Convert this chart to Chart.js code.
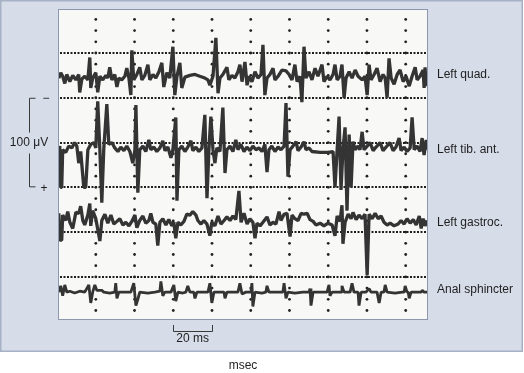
<!DOCTYPE html>
<html>
<head>
<meta charset="utf-8">
<script src="https://cdn.jsdelivr.net/npm/chart.js@4/dist/chart.umd.min.js"></script>
<style>
html,body{margin:0;padding:0;background:#ffffff;}
canvas{display:block;}
</style>
</head>
<body>
<canvas id="c" width="524" height="373"></canvas>
<script>
// ---- data (time in ms, amplitude in µV relative to each channel baseline) ----
const channelNames = ["Left quad.", "Left tib. ant.", "Left gastroc.", "Anal sphincter"];
const channelLevels = [272, 192, 111, 33]; // display offsets (µV) of each channel baseline

const quadPoints = [[-19.1,0],[-18.1,6],[-17.1,2],[-16,-6],[-15,4],[-13.4,-4],[-11.9,3],[-10.3,-2],[-8.8,4],[-8.3,-16],[-7.2,-1],[-5.7,2],[-4.1,-2],[-3.1,23],[-2.6,-11],[-1.6,0],[0,6],[1,-16],[2.1,2],[3.6,-2],[5.2,3],[6.2,0],[7.2,12],[8.3,-2],[9.8,4],[10.9,-10],[11.9,0],[13.4,-2],[15,2],[16,11],[17.1,0],[18.1,-19],[18.6,31],[19.6,-2],[21.2,4],[22.7,12],[23.8,-2],[25.3,3],[26.9,15],[27.9,-2],[29.5,4],[31,0],[32.6,7],[34.1,17],[35.1,-10],[36.7,6],[38.2,0],[39.8,35],[40.8,-19],[41.9,2],[43.4,17],[44.4,-11],[46,1],[48.6,3],[51.2,4],[53.7,2],[56.3,0],[57.9,-2],[58.9,-8],[60.5,2],[62,45],[63.1,-17],[64.1,0],[65.6,4],[67.7,12],[68.7,-2],[70.3,3],[71.8,0],[73.4,7],[74.4,15],[75.5,-4],[77,18],[78.1,-8],[79.1,2],[80.6,-4],[82.2,7],[83.7,0],[85.3,4],[86.3,37],[87.3,-19],[88.4,0],[89.9,4],[91.5,11],[92.5,-2],[94.1,2],[96.1,9],[98.2,8],[99.8,4],[101.3,-2],[102.8,15],[103.9,-4],[105.4,2],[106.4,-27],[107.5,35],[108.5,0],[110.1,7],[111.6,-2],[113.2,11],[114.7,2],[116.8,15],[117.8,-4],[119.4,2],[120.9,-2],[122.5,4],[123.5,15],[124.6,-2],[126.1,2],[127.1,15],[128.2,-22],[129.2,0],[130.8,7],[132.3,0],[133.9,9],[135.4,2],[137.5,-2],[139,2],[140.1,-19],[141.1,15],[142.1,-2],[143.7,4],[145.2,11],[146.8,-4],[148.3,4],[149.4,0],[150.4,-22],[151.4,22],[152.5,0],[154,-7],[155.6,4],[157.1,9],[158.7,-4],[160.2,2],[161.8,-9],[163.3,2],[164.9,12],[165.9,-2],[167.4,2],[169,9],[169.5,-11],[170,12],[170.6,-9],[171.1,2]];

const tibPoints = [[-19.1,0],[-18.6,4],[-18.1,-42],[-17.6,-42],[-17.1,0],[-15.5,-3],[-14,4],[-12.4,2],[-10.9,8],[-9.8,4],[-8.8,-15],[-7.8,-2],[-6.2,-42],[-5.2,-42],[-4.1,0],[-2.6,6],[-1,8],[0,2],[1,54],[2.1,0],[3.1,-59],[4.1,0],[5.7,51],[6.7,6],[8.3,8],[9.8,2],[11.4,-2],[12.9,3],[14.5,-1],[16,4],[17.6,-2],[19.1,-15],[20.2,0],[20.7,50],[21.7,-48],[22.7,0],[24.3,4],[25.8,-2],[27.4,11],[28.4,0],[30,3],[31.5,-2],[33.1,2],[34.6,10],[35.7,-1],[37.2,3],[38.8,-9],[39.8,0],[41.3,36],[41.9,-57],[42.9,0],[44.4,4],[46,-2],[47.5,3],[49.1,10],[50.1,-1],[51.7,3],[53.2,-2],[54.8,2],[56.3,39],[57.4,-54],[58.4,0],[59.4,37],[60.5,0],[61.5,-15],[62.5,2],[64.1,-2],[65.6,47],[66.7,-26],[67.7,0],[69.3,4],[70.8,-2],[72.3,11],[73.4,0],[74.9,6],[76.5,-2],[78,3],[79.6,-1],[81.1,4],[82.7,0],[84.2,2],[85.8,-2],[87.3,6],[88.4,-25],[89.4,0],[90.9,4],[92.5,-2],[94.1,3],[95.6,0],[97.2,4],[98.2,52],[99.2,-30],[100.3,0],[101.8,4],[103.4,9],[104.4,-1],[106,3],[107.5,9],[108.5,0],[110.1,2],[111.6,-2],[115.8,-3],[119.9,-3],[122.5,-2],[123.5,-42],[124.6,0],[125.6,37],[126.6,-45],[127.6,0],[128.7,25],[129.7,-68],[130.8,17],[131.8,-42],[132.8,9],[133.9,0],[135.4,4],[136.4,0],[137.5,20],[138.5,0],[140.1,4],[141.6,8],[143.2,-1],[144.7,3],[146.8,8],[148.3,-1],[149.9,3],[151.9,8],[153.5,-1],[155,3],[156.6,13],[157.6,-1],[159.2,3],[160.7,-2],[162.3,2],[163.3,36],[164.4,0],[165.9,4],[167.4,-2],[168.5,13],[169.5,-6],[170.6,11],[171.1,0]];

const gastrocPoints = [[-19.1,10],[-18.6,-20],[-17.6,-20],[-17.1,8],[-15.5,2],[-14.5,12],[-13.4,0],[-11.9,-7],[-10.3,11],[-8.8,10],[-7.8,18],[-6.7,2],[-5.7,-3],[-4.1,8],[-3.1,21],[-2.6,-4],[-1.6,13],[0,4],[2.1,-21],[3.1,2],[4.7,9],[6.2,-1],[7.8,8],[9.3,-2],[10.9,1],[12.4,4],[14,-3],[15.5,0],[17.1,-4],[18.6,1],[20.2,8],[21.2,-6],[22.7,2],[24.3,7],[25.8,-1],[27.4,2],[28.4,10],[29.5,0],[31,-2],[32,-26],[33.1,0],[34.6,4],[36.2,-3],[37.7,3],[39.3,-4],[40.3,0],[41.3,-18],[42.4,0],[43.9,-3],[45.5,1],[47,9],[48.6,8],[50.1,12],[51.7,8],[52.7,2],[54.3,-2],[55.8,2],[57.4,-2],[58.9,-15],[59.9,0],[61.5,-4],[63.1,7],[64.6,-2],[66.2,2],[67.7,6],[69.3,2],[70.8,7],[72.3,3],[73.9,35],[75,0],[76.5,10],[78.1,-2],[79.6,4],[81.1,0],[82.2,-18],[83.2,-1],[84.8,-4],[86.3,0],[88.4,6],[89.9,-3],[91.5,0],[93,-2],[94.6,12],[95.6,2],[97.2,9],[98.7,10],[100.3,-16],[101.3,8],[102.8,4],[104.4,2],[106,10],[107.5,9],[109.1,10],[110.6,3],[112.2,1],[113.7,-3],[115.8,-1],[117.8,-4],[119.9,-1],[122,-3],[123.5,-15],[124.6,7],[126.1,1],[127.1,19],[127.6,-24],[128.7,0],[130.3,9],[131.8,4],[132.8,11],[134.4,3],[135.9,8],[137.5,4],[139,9],[140.1,-59],[141.1,9],[142.7,4],[144.2,10],[145.8,4],[147.3,7],[148.8,0],[150.4,-3],[152,-1],[154,-4],[156.1,-2],[157.6,2],[159.2,-2],[160.7,4],[162.3,-1],[163.9,3],[165.4,-3],[167,7],[168,-7],[169,4],[170,-4],[171.1,2]];

const analPoints = [[-19.1,0],[-18.1,7],[-17.1,-4],[-16,8],[-15,0],[-13.4,1],[-10.9,-1],[-8.3,1],[-5.7,0],[-3.6,8],[-2.6,-12],[-1.6,0],[-0.5,8],[0.5,2],[3.1,2],[4.1,0],[7.2,-1],[9.8,0],[10.3,10],[10.9,-7],[11.9,0],[15,0],[18.1,0],[19.6,10],[20.7,-15],[21.7,-8],[22.7,0],[26.9,-1],[30.5,0],[33.1,1],[33.6,12],[34.6,-4],[35.7,0],[38.8,0],[40.3,8],[41.3,-10],[42.4,0],[44.9,-1],[46.5,0],[47.5,7],[48.6,0],[50.6,0],[51.2,-7],[52.2,0],[55.3,0],[57.9,0],[58.9,10],[59.9,-12],[61,0],[64.1,0],[66.2,0],[66.7,-7],[67.7,0],[70.8,0],[73.4,0],[74.4,10],[75.5,-2],[77.5,0],[80.1,0],[80.6,10],[81.1,-16],[82.2,0],[85.8,-1],[87.8,0],[88.4,7],[89.4,0],[93,0],[96.6,0],[97.2,10],[98.2,-7],[99.2,0],[102.8,-1],[106.9,0],[110.1,0],[110.6,4],[111.1,-15],[112.2,0],[115.8,0],[119.4,0],[120.4,8],[120.9,-4],[122,0],[125.1,0],[126.6,0],[127.1,7],[128.2,0],[131.3,0],[132.3,10],[133.3,0],[135.4,0],[135.9,-15],[137,0],[139.5,0],[141.1,4],[142.1,0],[145.2,0],[146.3,-12],[147.3,0],[148.8,0],[149.4,8],[150.4,0],[154.5,-1],[158.2,0],[159.2,0],[159.7,7],[160.7,0],[161.3,0],[161.8,-7],[162.8,0],[166.4,0],[168,0],[168.5,2],[169.5,0],[171.1,0]];

const channelPoints = [quadPoints, tibPoints, gastrocPoints, analPoints];

// grid / scale annotation values
const gridTimes = [0, 20, 40, 60, 80, 100, 120, 140, 160];          // ms
const gridLevels = [50, 100, 150, 200, 250, 300];                   // µV
const timeBar = [40, 60];                                           // 20 ms
const voltBar = [150, 250];                                         // 100 µV

const traceColor = '#343434';
const datasets = channelPoints.map((pts, i) => ({
  label: channelNames[i],
  data: pts.map(p => ({x: p[0], y: channelLevels[i] + p[1]})),
  borderColor: traceColor,
  borderWidth: i === 3 ? 2.8 : 3.3,
  pointRadius: 0,
  tension: 0,
  fill: false,
  borderJoinStyle: 'bevel',
  clip: 0
}));

const decor = {
  id: 'decor',
  beforeDraw(chart) {
    const ctx = chart.ctx, a = chart.chartArea;
    ctx.save();
    ctx.fillStyle = '#ffffff';
    ctx.fillRect(0, 0, chart.width, chart.height);
    // outer panel
    ctx.fillStyle = '#d6dce8';
    ctx.fillRect(0, 0, 523, 352);
    ctx.strokeStyle = '#a7b1c6';
    ctx.lineWidth = 1.5;
    ctx.strokeRect(0.75, 0.75, 521.5, 350.5);
    // plot area
    ctx.fillStyle = '#f8f8f7';
    ctx.fillRect(a.left, a.top, a.right - a.left, a.bottom - a.top);
    ctx.strokeStyle = '#8d97ad';
    ctx.lineWidth = 1;
    ctx.strokeRect(a.left - 0.5, a.top - 0.5, a.right - a.left + 1, a.bottom - a.top + 1);
    ctx.restore();
  },
  beforeDatasetsDraw(chart) {
    const ctx = chart.ctx, a = chart.chartArea;
    const xs = chart.scales.x, ys = chart.scales.y;
    ctx.save();
    // horizontal dotted lines
    ctx.strokeStyle = '#1e1e1e';
    ctx.lineWidth = 2;
    ctx.setLineDash([2, 1.5]);
    gridLevels.forEach(v => {
      const y = Math.round(ys.getPixelForValue(v));
      ctx.beginPath();
      ctx.moveTo(a.left + 1, y);
      ctx.lineTo(a.right, y);
      ctx.stroke();
    });
    ctx.setLineDash([]);
    // vertical dotted columns: dots at quarter divisions
    ctx.fillStyle = '#222222';
    const step = (gridLevels[1] - gridLevels[0]) / 4;
    gridTimes.forEach(t => {
      const x = xs.getPixelForValue(t);
      for (let v = gridLevels[0] - step * 3; v <= ys.max; v += step) {
        if (v <= ys.min) continue;
        const y = ys.getPixelForValue(v);
        ctx.beginPath();
        ctx.arc(x, y, 1.4, 0, Math.PI * 2);
        ctx.fill();
      }
    });
    ctx.restore();
  },
  afterDatasetsDraw(chart) {
    const ctx = chart.ctx, a = chart.chartArea;
    const xs = chart.scales.x, ys = chart.scales.y;
    ctx.save();
    ctx.fillStyle = '#1e1e1e';
    ctx.font = '12px "Liberation Sans", Arial, sans-serif';
    ctx.textBaseline = 'middle';
    ctx.textAlign = 'left';
    const labelShift = [-3, 0, 0, -2];
    channelNames.forEach((n, i) => {
      ctx.fillText(n, a.right + 10, ys.getPixelForValue(channelLevels[i]) + labelShift[i]);
    });
    // 100 µV bracket
    const yTop = ys.getPixelForValue(voltBar[1]);
    const yBot = ys.getPixelForValue(voltBar[0]);
    const yMid = (yTop + yBot) / 2;
    ctx.strokeStyle = '#3a3a3a';
    ctx.lineWidth = 1;
    ctx.beginPath();
    ctx.moveTo(35.5, yTop + 0.5); ctx.lineTo(29.5, yTop + 0.5); ctx.lineTo(29.5, yMid - 10);
    ctx.moveTo(29.5, yMid + 11); ctx.lineTo(29.5, yBot - 0.5); ctx.lineTo(35.5, yBot - 0.5);
    ctx.stroke();
    ctx.textAlign = 'center';
    ctx.fillText('100 \u03BCV', 29, yMid + 0.5);
    ctx.fillText('\u2212', 46, yTop + 0.5);
    ctx.fillText('+', 44, yBot + 1);
    // 20 ms bar
    const x0 = xs.getPixelForValue(timeBar[0]);
    const x1 = xs.getPixelForValue(timeBar[1]);
    const by = a.bottom + 12;
    ctx.beginPath();
    ctx.moveTo(Math.round(x0) + 0.5, by - 6);
    ctx.lineTo(Math.round(x0) + 0.5, by + 0.5);
    ctx.lineTo(Math.round(x1) + 0.5, by + 0.5);
    ctx.lineTo(Math.round(x1) + 0.5, by - 6);
    ctx.stroke();
    ctx.fillText('20 ms', (x0 + x1) / 2, by + 8);
    // axis caption
    ctx.fillText('msec', 243, 366);
    ctx.restore();
  }
};

new Chart(document.getElementById('c'), {
  type: 'line',
  data: { datasets },
  options: {
    responsive: false,
    animation: false,
    events: [],
    layout: { padding: { left: 59, right: 97, top: 10, bottom: 54 } },
    plugins: { legend: { display: false }, tooltip: { enabled: false } },
    scales: {
      x: { type: 'linear', min: -19, max: 171, display: false },
      y: { type: 'linear', min: 3, max: 348, display: false }
    }
  },
  plugins: [decor]
});
</script>
</body>
</html>
